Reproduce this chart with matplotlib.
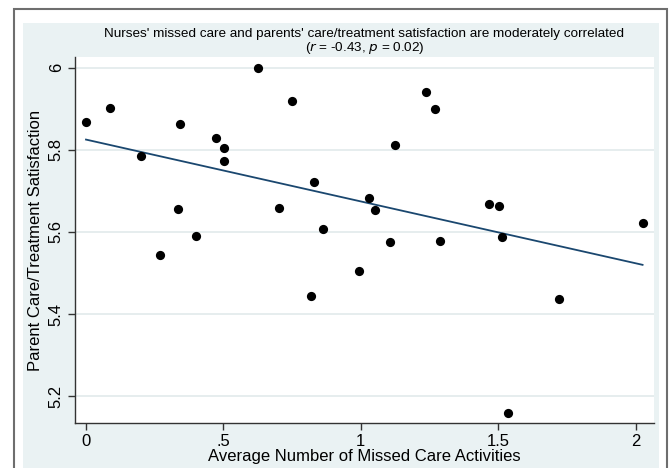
import numpy as np
import matplotlib.pyplot as plt
from matplotlib.patches import Rectangle

# missed care (x) vs parent satisfaction (y)
missed = [0.0, 0.088, 0.201, 0.27, 0.334, 0.341, 0.40, 0.473, 0.501, 0.501,
          0.627, 0.704, 0.751, 0.819, 0.829, 0.864, 0.995, 1.028, 1.05, 1.106,
          1.126, 1.238, 1.268, 1.289, 1.466, 1.501, 1.512, 1.536, 1.722, 2.025]
satis = [5.868, 5.902, 5.786, 5.543, 5.656, 5.864, 5.590, 5.830, 5.804, 5.772,
         6.0, 5.659, 5.920, 5.445, 5.721, 5.607, 5.505, 5.682, 5.653, 5.575,
         5.811, 5.940, 5.899, 5.577, 5.668, 5.663, 5.589, 5.160, 5.437, 5.623]

xticks = [0, 0.5, 1, 1.5, 2]
xticklabels = ['0', '.5', '1', '1.5', '2']
yticks = [5.2, 5.4, 5.6, 5.8, 6.0]
yticklabels = ['5.2', '5.4', '5.6', '5.8', '6']

plt.rcParams['font.family'] = ['Liberation Sans', 'DejaVu Sans']

bg = '#eaf2f3'
fig = plt.figure(figsize=(6.69, 4.68), dpi=100)
fig.patch.set_facecolor('white')

# outer frame and light background panel (Stata style)
fig.patches.append(Rectangle((14/669, -0.05), (667-14)/669, 1.05 - 9/468,
                             transform=fig.transFigure, fill=False,
                             edgecolor='#6e6e6e', lw=1.5, zorder=-5))
fig.patches.append(Rectangle((23/669, -0.05), (659-23)/669, 1.05 - 23/468,
                             transform=fig.transFigure, facecolor=bg,
                             edgecolor='none', zorder=-6))

ax = fig.add_axes([75/669, 1-423/468, (654-75)/669, (423-57)/468])
ax.set_zorder(1)
ax.set_facecolor('white')

ax.scatter(missed, satis, s=44, color='black', zorder=3, linewidths=0)

# linear fit
b, a = np.polyfit(missed, satis, 1)
xs = np.array([min(missed), max(missed)])
ax.plot(xs, a + b*xs, color='#1a476f', lw=1.3, zorder=2)

ax.set_xlim(-0.040, 2.0666)
ax.set_ylim(5.135, 6.026)
ax.set_xticks(xticks)
ax.set_xticklabels(xticklabels)
ax.set_yticks(yticks)
ax.set_yticklabels(yticklabels, rotation=90, va='center')
ax.tick_params(axis='both', labelsize=12, length=5, width=1, color='#333333',
               direction='out', pad=3)

for s in ['top', 'right']:
    ax.spines[s].set_visible(False)
for s in ['left', 'bottom']:
    ax.spines[s].set_color('#333333')
    ax.spines[s].set_linewidth(1)

ax.yaxis.grid(True, color='#e4eced', lw=1.3)
ax.set_axisbelow(True)

ax.set_xlabel('Average Number of Missed Care Activities', fontsize=12, labelpad=0)
ax.set_ylabel('Parent Care/Treatment Satisfaction', fontsize=12, labelpad=4)
ax.set_title("Nurses' missed care and parents' care/treatment satisfaction are moderately correlated\n"
             "($\\it{r}$ = -0.43, $\\it{p}$ = 0.02)", fontsize=9.7, pad=4, linespacing=1.0)

fig.savefig('out.png', dpi=100, facecolor='white')
